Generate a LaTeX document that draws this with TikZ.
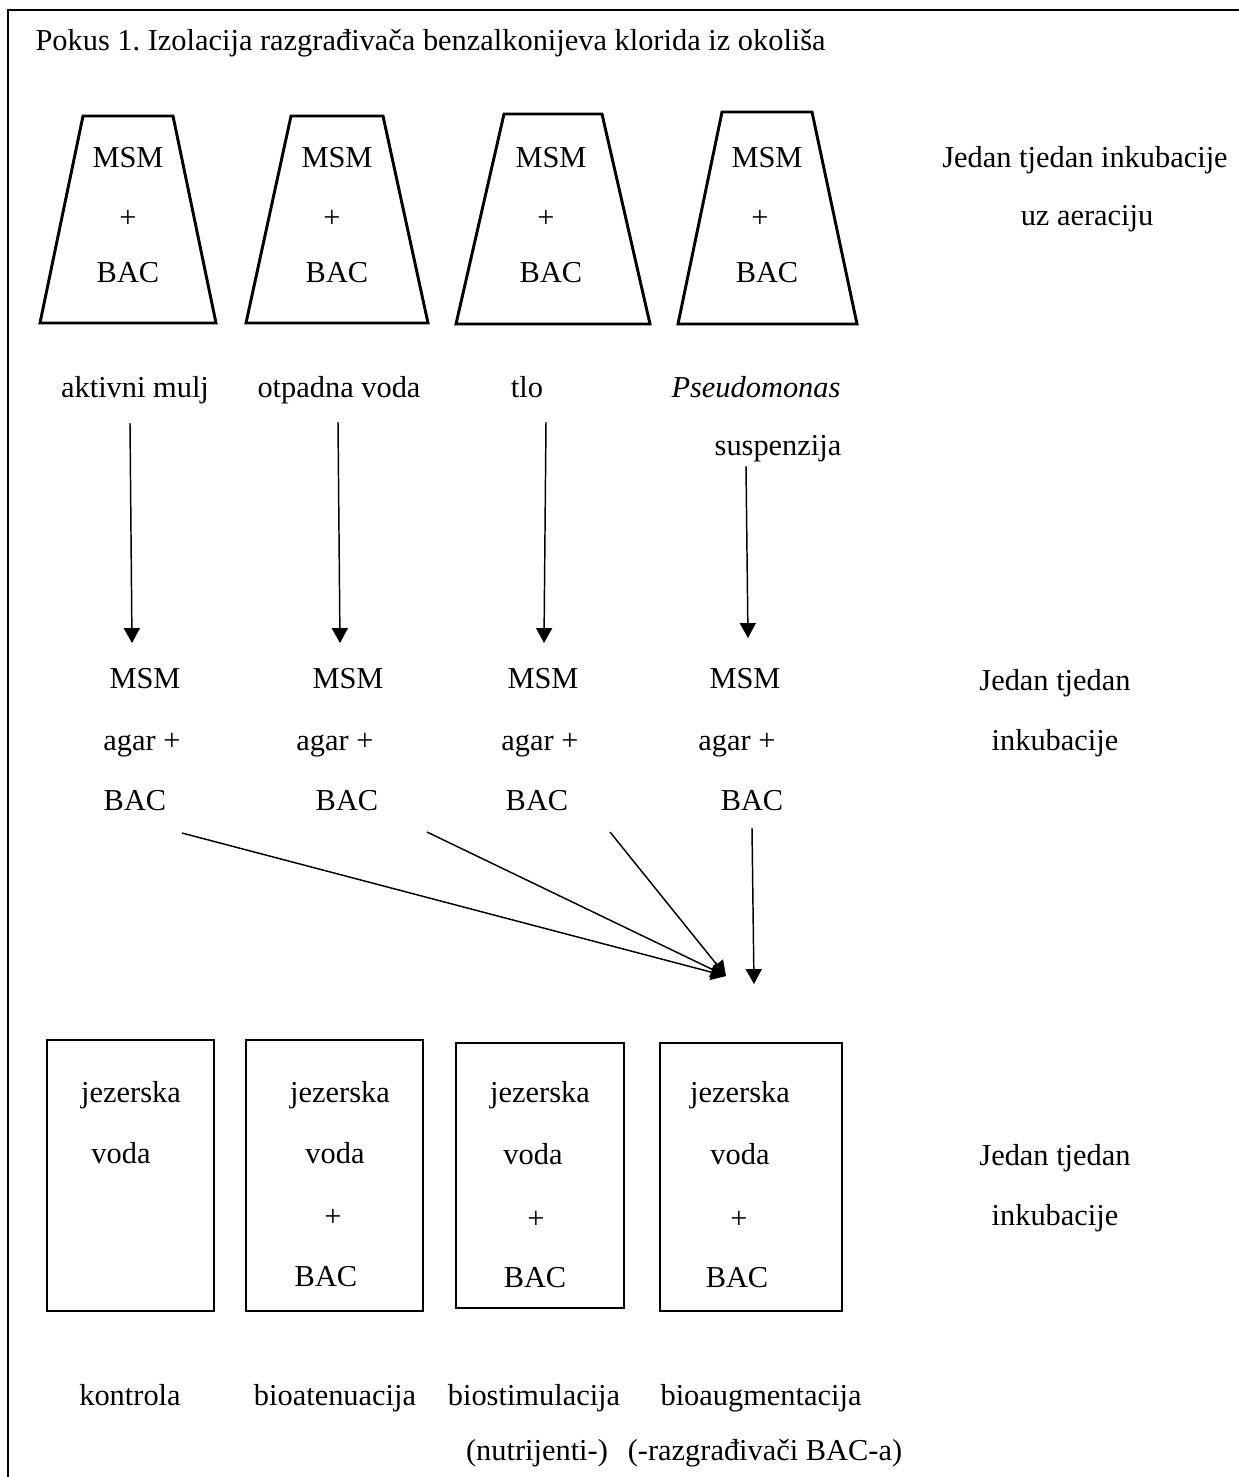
\documentclass[tikz,border=0pt]{standalone}
\usepackage{fontspec}
\setmainfont{Liberation Serif}
\usetikzlibrary{arrows.meta}
\frenchspacing
\begin{document}
\begin{tikzpicture}[x=0.375pt,y=-0.375pt,
  txt/.style={anchor=base,inner sep=0pt,font=\fontsize{11.4}{13.5}\selectfont},
  shapeline/.style={draw=black,line width=1.1pt,line join=miter},
  conn/.style={draw=black,line width=0.55pt,-{Triangle[width=6pt,length=5.6pt]}}]
\useasboundingbox (0,0) rectangle (1239,1477);
% frame
\draw[line width=1.1pt] (8,1490) -- (8,10) -- (1250,10);
% title
\node[txt,anchor=base west] (title) at (35,50) {\frenchspacing Pokus 1. Izolacija razgrađivača benzalkonijeva klorida iz okoliša};
% trapezoids
\draw[shapeline] (83,116) -- (173,116) -- (216,323) -- (40,323) -- cycle;
\draw[shapeline] (291,116) -- (383,116) -- (428,323) -- (246,323) -- cycle;
\draw[shapeline] (504,114) -- (602,114) -- (650,324) -- (456,324) -- cycle;
\draw[shapeline] (722,112) -- (812,112) -- (857,324) -- (678,324) -- cycle;
\foreach \cx/\i in {128/1,337/2,551/3,767/4}{
  \node[txt] (tm\i) at (\cx,167) {MSM};
  \node[txt] (tb\i) at (\cx,282) {BAC};
}
\node[txt] (tp1) at (128,227) {+};
\node[txt] (tp2) at (332,227) {+};
\node[txt] (tp3) at (546,227) {+};
\node[txt] (tp4) at (760,227) {+};
\node[txt] (r1a) at (1085,167) {Jedan tjedan inkubacije};
\node[txt] (r1b) at (1087,225) {uz aeraciju};
% source labels
\node[txt] (s1) at (135,397) {aktivni mulj};
\node[txt] (s2) at (339,397) {otpadna voda};
\node[txt] (s3) at (527,397) {tlo};
\node[txt] (s4) at (756,397) {\itshape Pseudomonas};
\node[txt] (s4b) at (778,455) {suspenzija};
% arrows down
\coordinate (a1s) at (130,423); \coordinate (a1e) at (132,643);
\coordinate (a2s) at (338,422); \coordinate (a2e) at (340,643);
\coordinate (a3s) at (546,422); \coordinate (a3e) at (544,643);
\coordinate (a4s) at (746,466); \coordinate (a4e) at (748,638);
\draw[conn] (a1s) -- (a1e);
\draw[conn] (a2s) -- (a2e);
\draw[conn] (a3s) -- (a3e);
\draw[conn] (a4s) -- (a4e);
% agar plates
\node[txt] (m1) at (145,688) {MSM};
\node[txt] (g1) at (142,750) {agar +};
\node[txt] (b1) at (135,810) {BAC};
\node[txt] (m2) at (348,688) {MSM};
\node[txt] (g2) at (335,750) {agar +};
\node[txt] (b2) at (347,810) {BAC};
\node[txt] (m3) at (543,688) {MSM};
\node[txt] (g3) at (540,750) {agar +};
\node[txt] (b3) at (537,810) {BAC};
\node[txt] (m4) at (745,688) {MSM};
\node[txt] (g4) at (737,750) {agar +};
\node[txt] (b4) at (752,810) {BAC};
\node[txt] (r2a) at (1055,690) {Jedan tjedan};
\node[txt] (r2b) at (1055,750) {inkubacije};
% converging arrows
\coordinate (c1s) at (182,833);
\coordinate (c2s) at (427,832);
\coordinate (c3s) at (610,832);
\coordinate (c4s) at (752,828);
\coordinate (ce) at (726,976);
\coordinate (c4e) at (754,984);
\draw[conn] (c1s) -- (ce);
\draw[conn] (c2s) -- (ce);
\draw[conn] (c3s) -- (ce);
\draw[conn] (c4s) -- (c4e);
% bottom boxes
\draw[shapeline] (47,1040) rectangle (214,1311);
\draw[shapeline] (246,1040) rectangle (423,1311);
\draw[shapeline] (456,1043) rectangle (624,1308);
\draw[shapeline] (660,1043) rectangle (842,1311);
\node[txt] (j1) at (131,1102) {jezerska};
\node[txt] (v1) at (121,1163) {voda};
\node[txt] (j2) at (340,1102) {jezerska};
\node[txt] (v2) at (335,1163) {voda};
\node[txt] (p2) at (333,1226) {+};
\node[txt] (bb2) at (326,1286) {BAC};
\node[txt] (j3) at (540,1102) {jezerska};
\node[txt] (v3) at (533,1164) {voda};
\node[txt] (p3) at (536,1228) {+};
\node[txt] (bb3) at (535,1287) {BAC};
\node[txt] (j4) at (740,1102) {jezerska};
\node[txt] (v4) at (740,1164) {voda};
\node[txt] (p4) at (739,1228) {+};
\node[txt] (bb4) at (737,1287) {BAC};
\node[txt] (r3a) at (1055,1165) {Jedan tjedan};
\node[txt] (r3b) at (1055,1225) {inkubacije};
% bottom labels
\node[txt] (l1) at (130,1405) {kontrola};
\node[txt] (l2) at (335,1405) {bioatenuacija};
\node[txt] (l3) at (534,1405) {biostimulacija};
\node[txt] (l4) at (761,1405) {bioaugmentacija};
\node[txt] (l3b) at (537,1460) {(nutrijenti-)};
\node[txt] (l4b) at (765,1460) {(-razgrađivači BAC-a)};
\end{tikzpicture}
\end{document}
